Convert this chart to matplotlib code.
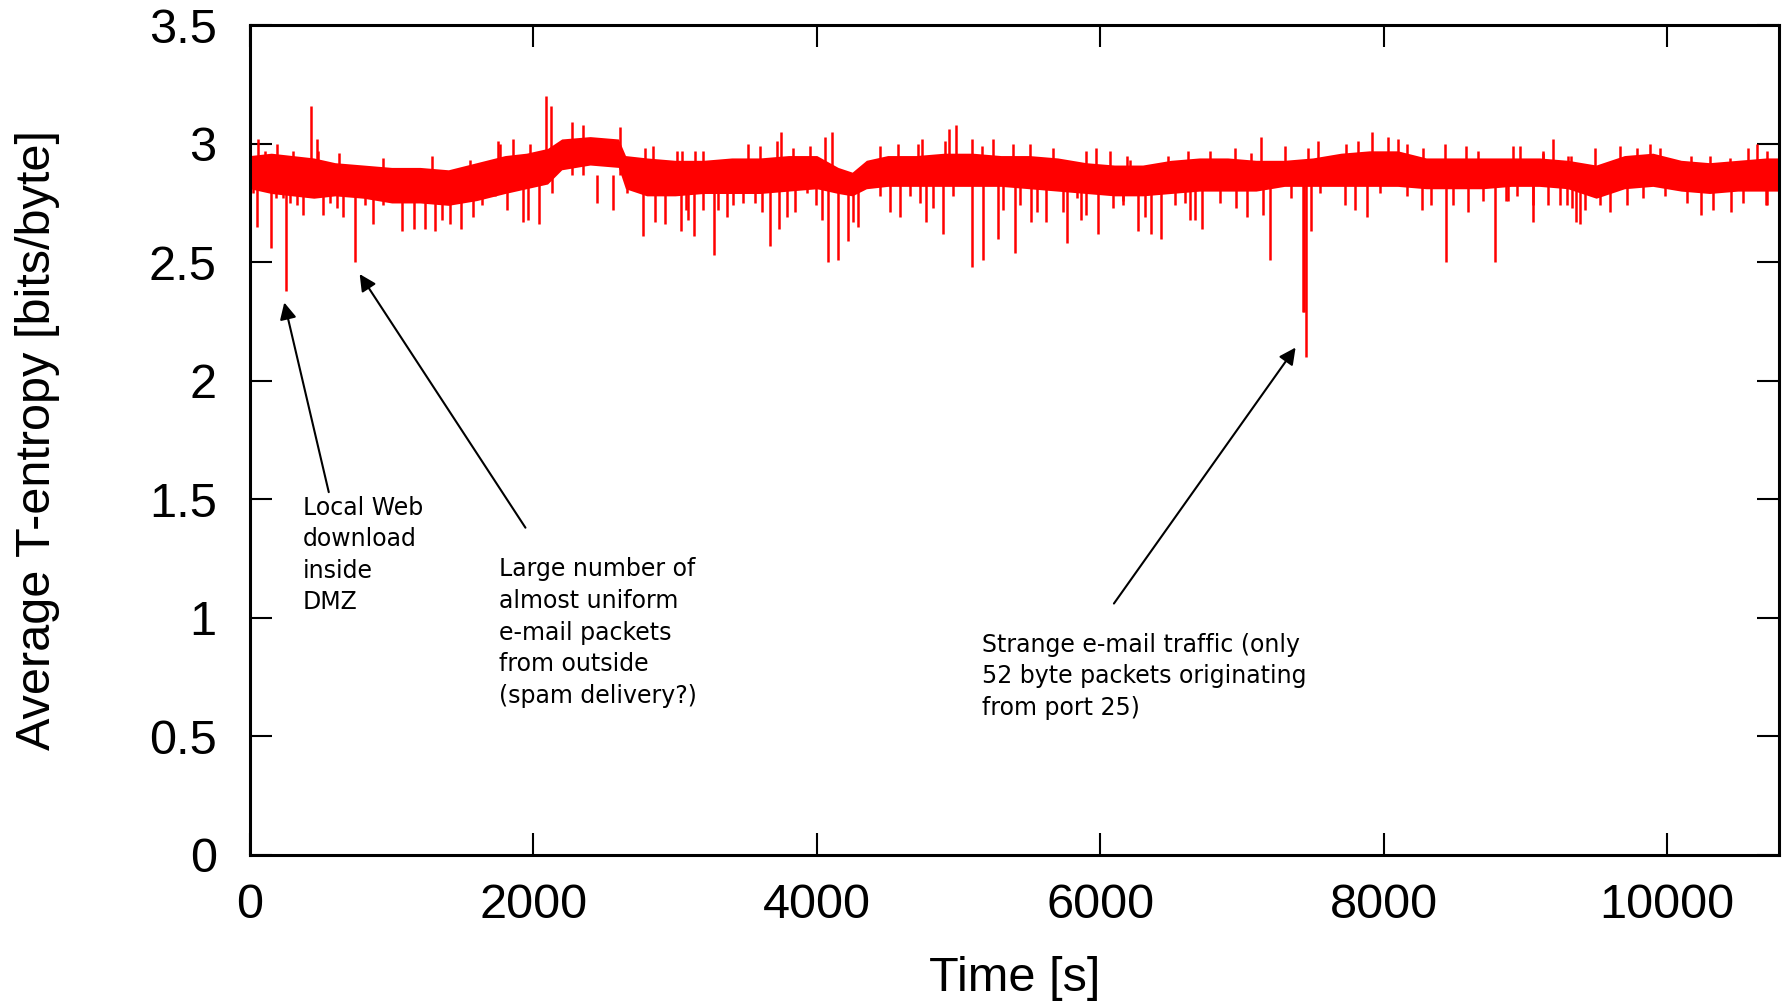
"""Average T-entropy over time with annotated anomalies."""

import matplotlib.pyplot as plt

plt.rcParams.update({
    "font.family": "Liberation Sans", "font.size": 35,
})

# dense band of the trace: time [s], lower and upper edge
band_t = [0, 150, 300, 450, 600, 800, 1000, 1200, 1400, 1600, 1800, 1950,
          2100, 2200, 2400, 2600, 2650, 2800, 3000, 3200, 3400, 3600, 3800,
          4000, 4150, 4250, 4350, 4500, 4700, 4900, 5100, 5300, 5500, 5700,
          5900, 6100, 6300, 6500, 6700, 6900, 7100, 7300, 7500, 7700, 7900,
          8100, 8300, 8500, 8700, 8900, 9100, 9300, 9500, 9700, 9900, 10100,
          10300, 10500, 10700, 10790]
band_lo = [2.81, 2.79, 2.78, 2.77, 2.78, 2.77, 2.75, 2.75, 2.74, 2.76, 2.79, 2.81,
           2.83, 2.89, 2.91, 2.90, 2.81, 2.78, 2.78, 2.79, 2.79, 2.79, 2.80,
           2.81, 2.79, 2.78, 2.81, 2.82, 2.82, 2.82, 2.82, 2.82, 2.81, 2.80,
           2.79, 2.78, 2.78, 2.79, 2.80, 2.80, 2.80, 2.82, 2.82, 2.82, 2.82,
           2.82, 2.81, 2.81, 2.81, 2.82, 2.82, 2.81, 2.77, 2.81, 2.82, 2.80,
           2.79, 2.80, 2.80, 2.80]
band_hi = [2.95, 2.96, 2.95, 2.94, 2.92, 2.91, 2.90, 2.90, 2.89, 2.92, 2.95, 2.96,
           2.98, 3.02, 3.03, 3.02, 2.95, 2.94, 2.93, 2.93, 2.94, 2.94, 2.95,
           2.95, 2.90, 2.88, 2.93, 2.95, 2.95, 2.96, 2.96, 2.95, 2.95, 2.94,
           2.92, 2.91, 2.91, 2.93, 2.94, 2.94, 2.93, 2.93, 2.94, 2.96, 2.97,
           2.97, 2.94, 2.94, 2.94, 2.94, 2.94, 2.93, 2.91, 2.95, 2.96, 2.93,
           2.92, 2.93, 2.94, 2.94]

# downward spikes (time, minimum)
dip_t = [52, 148, 254, 518, 654, 743, 870, 1075, 1155, 1305, 1487, 1924, 2042,
         2447, 2564, 2771, 2860, 2929, 3039, 3133, 3276, 3368, 3610, 3669, 3735,
         4081, 4151, 4217, 4292, 4516, 4586, 4774, 4892, 5092, 5174, 5280, 5398,
         5511, 5621, 5769, 5868, 5986, 6268, 6362, 6426, 6668, 6718, 7033, 7146,
         7198, 7428, 7440, 7455, 7488, 7729, 7797, 7882, 8272, 8444, 8597, 8785,
         9051, 9357, 9385, 9597, 10239, 10449, 10696,
         24, 89, 183, 235, 282, 329, 376, 565, 612, 812, 941, 1106, 1237, 1353,
         1411, 1576, 1635, 1729, 1811, 1964, 2129, 2658, 3093,
         3076, 3199, 3304, 3410, 3481, 3563, 3787, 3845, 3928, 3998, 4034, 4257,
         4445, 4657, 4727, 4822, 4963, 5315, 5433, 5551, 5739, 5833, 5903, 6092,
         6162, 6163, 6315, 6527, 6598, 6633, 6845, 6962, 7350, 7550, 7974, 8162,
         8338, 8491, 8703, 8867, 9056, 9291, 8880, 8939, 9162, 9244, 9327, 9421,
         9527, 9715, 9832, 9985, 10138, 10326, 10538, 10703]
dip_v = [2.65, 2.56, 2.38, 2.70, 2.69, 2.50, 2.66, 2.63, 2.64, 2.63, 2.64, 2.67, 2.66,
         2.75, 2.72, 2.61, 2.67, 2.66, 2.63, 2.61, 2.53, 2.69, 2.71, 2.57, 2.64,
         2.50, 2.51, 2.59, 2.65, 2.71, 2.69, 2.67, 2.62, 2.48, 2.51, 2.60, 2.54,
         2.67, 2.67, 2.58, 2.68, 2.62, 2.63, 2.62, 2.60, 2.68, 2.64, 2.69, 2.70,
         2.51, 2.29, 2.29, 2.10, 2.63, 2.74, 2.72, 2.69, 2.72, 2.50, 2.71, 2.50,
         2.67, 2.67, 2.66, 2.71, 2.70, 2.71, 2.74,
         2.79, 2.81, 2.77, 2.77, 2.75, 2.74, 2.70, 2.75, 2.73, 2.74, 2.74, 2.77, 2.64, 2.68,
         2.66, 2.69, 2.74, 2.78, 2.72, 2.68, 2.79, 2.79, 2.68,
         2.72, 2.72, 2.72, 2.74, 2.75, 2.75, 2.69, 2.71, 2.79, 2.74, 2.68, 2.67,
         2.78, 2.78, 2.75, 2.73, 2.78, 2.72, 2.74, 2.71, 2.71, 2.77, 2.70, 2.73,
         2.74, 2.76, 2.69, 2.74, 2.75, 2.68, 2.75, 2.73, 2.77, 2.79, 2.79, 2.78,
         2.74, 2.74, 2.76, 2.76, 2.74, 2.74, 2.76, 2.78, 2.74, 2.74, 2.73, 2.72,
         2.74, 2.74, 2.77, 2.78, 2.75, 2.72, 2.75, 2.74]

# upward spikes (time, maximum)
peak_t = [59, 430, 470, 1753, 1858, 2087, 2124, 2270, 2352, 3516, 3751, 4104,
          4575, 4746, 4934, 4979, 5094, 5245, 5899, 5974, 7134, 7538, 7915,
          8032, 8103, 9197, 10632,
          106, 188, 306, 482, 628, 941, 1282, 1553, 1764, 1976, 2611, 2788, 2846,
          3011, 3140, 3047, 3199, 3598, 3716, 3834, 3951, 4057, 4445, 4716, 4904,
          5163, 5386, 5504, 5668, 6068, 6209, 6186, 6480, 6621, 6774, 6950, 7063,
          7303, 7468, 7738, 7821, 8162, 8279, 8432, 8585, 8667, 8914, 9126, 9326,
          8962, 9127, 9303, 9491, 9668, 9785, 9879, 9950, 10173, 10303, 10444,
          10573, 10703]
peak_v = [3.02, 3.16, 3.02, 3.01, 3.02, 3.20, 3.16, 3.09, 3.08, 3.00, 3.05, 3.05,
          3.00, 3.02, 3.06, 3.08, 3.02, 3.02, 2.97, 2.98, 3.03, 3.01, 3.05,
          3.03, 3.02, 3.02, 3.00,
          2.97, 3.00, 2.97, 2.97, 2.96, 2.94, 2.95, 2.93, 3.00, 3.00, 3.07, 2.98, 2.99,
          2.97, 2.97, 2.97, 2.97, 2.99, 3.01, 2.98, 2.99, 3.03, 2.99, 3.00, 3.01,
          2.99, 3.00, 3.00, 2.98, 2.97, 2.93, 2.95, 2.95, 2.97, 2.97, 2.98, 2.96,
          2.99, 2.98, 3.00, 3.01, 3.00, 2.98, 3.00, 2.99, 2.97, 2.99, 2.96, 2.95,
          2.99, 2.97, 2.95, 2.98, 2.99, 2.98, 3.00, 2.98, 2.95, 2.95, 2.94,
          2.98, 2.97]

fig = plt.figure(figsize=(17.92, 10.08), dpi=100)
ax = fig.add_axes([0.1395, 0.152, 0.8532, 0.823])

red = "#ff0000"
ax.fill_between(band_t, band_lo, band_hi, color=red, lw=0)
ax.vlines(dip_t, [2.87] * len(dip_t), dip_v, color=red, lw=1.8)
ax.vlines(peak_t, [2.87] * len(peak_t), peak_v, color=red, lw=1.8)

ax.set_xlim(0, 10790)
ax.set_ylim(0, 3.5)
ax.set_xticks([0, 2000, 4000, 6000, 8000, 10000])
ax.set_yticks([0, 0.5, 1, 1.5, 2, 2.5, 3, 3.5])
ax.set_yticklabels(["0", "0.5", "1", "1.5", "2", "2.5", "3", "3.5"])
ax.tick_params(direction="in", length=16, width=1.5, top=True, right=True)
ax.tick_params(axis="y", pad=24)
ax.tick_params(axis="x", pad=20)
for s in ax.spines.values():
    s.set_linewidth(2.2)

ax.set_xlabel("Time [s]", va="center")
ax.set_ylabel("Average T-entropy [bits/byte]", va="center")
ax.xaxis.set_label_coords(0.5, -0.149)
ax.yaxis.set_label_coords(-0.1387, 0.5)

arrow = dict(arrowstyle="-|>", lw=1.5, color="black", mutation_scale=25,
             shrinkA=0, shrinkB=0)
note = dict(fontsize=17, family="DejaVu Sans", ha="left", va="top", linespacing=1.4)
ax.annotate("", xy=(242, 2.33), xytext=(556, 1.53), arrowprops=arrow)
ax.annotate("", xy=(774, 2.45), xytext=(1944, 1.38), arrowprops=arrow)
ax.annotate("", xy=(7379, 2.14), xytext=(6097, 1.06), arrowprops=arrow)
ax.text(371, 1.515, "Local Web\ndownload\ninside\nDMZ", **note)
ax.text(1758, 1.255, "Large number of\nalmost uniform\ne-mail packets\nfrom outside\n(spam delivery?)", **note)
ax.text(5169, 0.937, "Strange e-mail traffic (only\n52 byte packets originating\nfrom port 25)", **note)

fig.savefig("out.png")
